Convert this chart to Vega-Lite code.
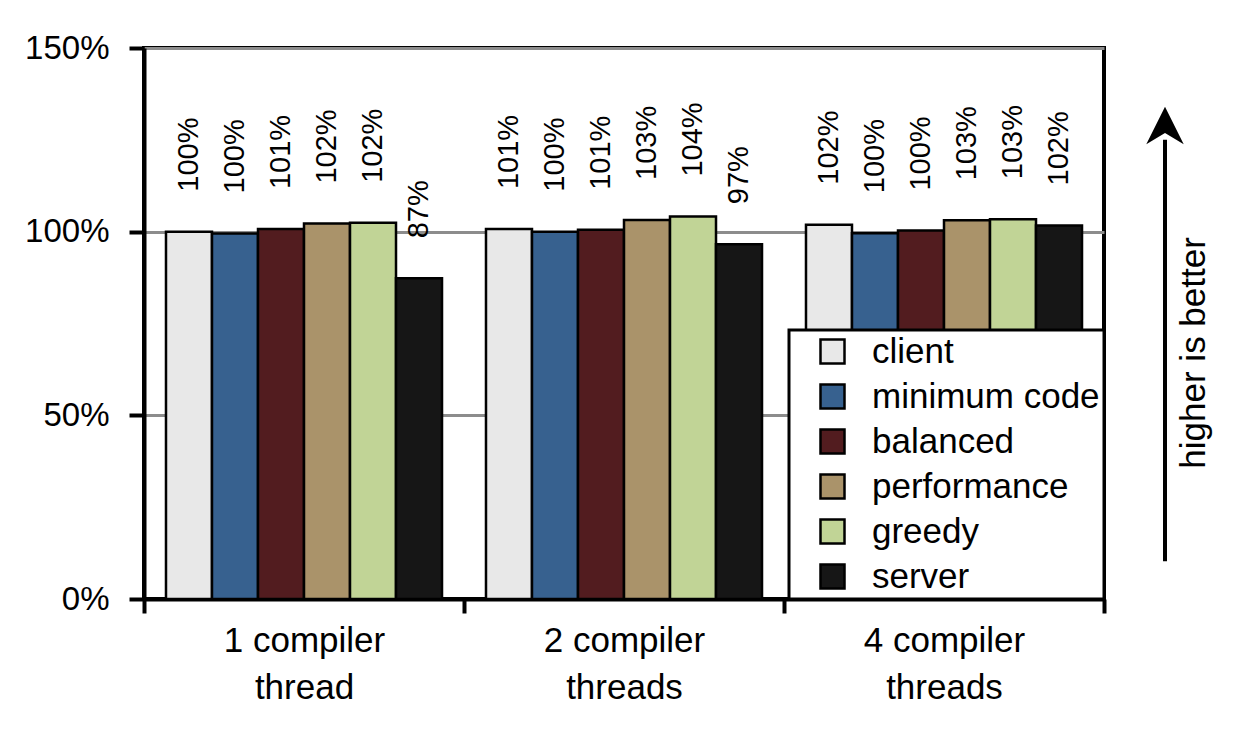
{
  "$schema": "https://vega.github.io/schema/vega-lite/v6.json",
  "padding": {"left": 22, "top": 30, "right": 0, "bottom": 0},
  "background": "white",
  "config": {
    "font": "Liberation Sans, Arial",
    "concat": {"spacing": 5}
  },
  "resolve": {"legend": {"color": "independent"}, "scale": {"y": "independent", "x": "independent"}},
  "datasets": {
    "bars": [
      {"group": "1 compiler thread", "config": "client", "value": 1.0, "label": "100%"},
      {"group": "1 compiler thread", "config": "minimum code", "value": 0.995, "label": "100%"},
      {"group": "1 compiler thread", "config": "balanced", "value": 1.007, "label": "101%"},
      {"group": "1 compiler thread", "config": "performance", "value": 1.022, "label": "102%"},
      {"group": "1 compiler thread", "config": "greedy", "value": 1.024, "label": "102%"},
      {"group": "1 compiler thread", "config": "server", "value": 0.873, "label": "87%"},
      {"group": "2 compiler threads", "config": "client", "value": 1.007, "label": "101%"},
      {"group": "2 compiler threads", "config": "minimum code", "value": 1.0, "label": "100%"},
      {"group": "2 compiler threads", "config": "balanced", "value": 1.005, "label": "101%"},
      {"group": "2 compiler threads", "config": "performance", "value": 1.032, "label": "103%"},
      {"group": "2 compiler threads", "config": "greedy", "value": 1.041, "label": "104%"},
      {"group": "2 compiler threads", "config": "server", "value": 0.966, "label": "97%"},
      {"group": "4 compiler threads", "config": "client", "value": 1.019, "label": "102%"},
      {"group": "4 compiler threads", "config": "minimum code", "value": 0.996, "label": "100%"},
      {"group": "4 compiler threads", "config": "balanced", "value": 1.003, "label": "100%"},
      {"group": "4 compiler threads", "config": "performance", "value": 1.031, "label": "103%"},
      {"group": "4 compiler threads", "config": "greedy", "value": 1.034, "label": "103%"},
      {"group": "4 compiler threads", "config": "server", "value": 1.017, "label": "102%"}
    ],
    "note": [
      {"part": "shaft", "x": 0.4, "y": 0.103, "y2": 1.25},
      {"part": "head", "x": 0.4, "y": 1.289},
      {"part": "text", "x": 0.62, "y": 0.67, "label": "higher is better"}
    ]
  },
  "hconcat": [
    {
      "width": 960,
      "height": 551,
      "view": {"stroke": "black", "strokeWidth": 4},
      "data": {"name": "bars"},
      "encoding": {
        "x": {
          "field": "group", "type": "nominal", "sort": null,
          "scale": {"paddingInner": 0, "paddingOuter": 0},
          "axis": {
            "title": null, "labelAngle": 0, "labelFontSize": 35, "labelColor": "black",
            "labelExpr": "[slice(datum.label, 0, 10), slice(datum.label, 11)]",
            "labelLineHeight": 47, "labelPadding": 10, "labelLimit": 400,
            "tickBand": "extent", "tickSize": 14, "tickWidth": 4, "tickColor": "black",
            "domainColor": "black", "domainWidth": 4
          }
        },
        "xOffset": {
          "field": "config", "type": "nominal",
          "sort": ["client", "minimum code", "balanced", "performance", "greedy", "server"],
          "scale": {"paddingInner": 0, "paddingOuter": 0.478}
        },
        "y": {
          "field": "value", "type": "quantitative",
          "scale": {"domain": [0, 1.5], "nice": false},
          "axis": {
            "title": null, "values": [0, 0.5, 1, 1.5], "format": ".0%",
            "labelFontSize": 33, "labelColor": "black", "labelPadding": 20,
            "tickSize": 15, "tickWidth": 4, "tickColor": "black",
            "domainColor": "black", "domainWidth": 4,
            "grid": true, "gridColor": "#8c8c8c", "gridWidth": 3
          }
        }
      },
      "layer": [
        {
          "mark": {"type": "bar", "stroke": "black", "strokeWidth": 2.5},
          "encoding": {
            "color": {
              "field": "config", "type": "nominal",
              "sort": ["client", "minimum code", "balanced", "performance", "greedy", "server"],
              "scale": {
                "domain": ["client", "minimum code", "balanced", "performance", "greedy", "server"],
                "range": ["#e8e8e8", "#37618f", "#521c1f", "#aa936a", "#c1d496", "#161616"]
              },
              "legend": {
                "title": null, "orient": "bottom-right", "offset": 0,
                "padding": 4, "symbolOffset": 22,
                "strokeColor": "black", "fillColor": "white",
                "symbolType": "square", "symbolSize": 576,
                "symbolStrokeColor": "black", "symbolStrokeWidth": 2.5,
                "labelFontSize": 35, "labelColor": "black", "labelOffset": 22,
                "rowPadding": 9, "labelLimit": 400,
                "encode": {"legend": {"update": {"strokeWidth": {"value": 3}}}}
              }
            }
          }
        },
        {
          "mark": {"type": "text", "angle": -90, "align": "left", "baseline": "middle", "dx": 40, "fontSize": 29, "color": "black"},
          "encoding": {"text": {"field": "label"}}
        }
      ]
    },
    {
      "width": 130,
      "height": 551,
      "view": {"stroke": null},
      "data": {"name": "note"},
      "encoding": {
        "x": {"field": "x", "type": "quantitative", "scale": {"domain": [0, 1]}, "axis": null},
        "y": {"field": "y", "type": "quantitative", "scale": {"domain": [0, 1.5], "nice": false}, "axis": null}
      },
      "layer": [
        {
          "transform": [{"filter": "datum.part === 'shaft'"}],
          "mark": {"type": "rule", "stroke": "black", "strokeWidth": 4},
          "encoding": {"y2": {"field": "y2"}}
        },
        {
          "transform": [{"filter": "datum.part === 'head'"}],
          "mark": {"type": "point", "shape": "M0,-1L1,1L0,0.4L-1,1Z", "filled": true, "color": "black", "opacity": 1, "size": 1400}
        },
        {
          "transform": [{"filter": "datum.part === 'text'"}],
          "mark": {"type": "text", "angle": -90, "align": "center", "baseline": "middle", "fontSize": 35, "color": "black"},
          "encoding": {"text": {"field": "label"}}
        }
      ]
    }
  ]
}
